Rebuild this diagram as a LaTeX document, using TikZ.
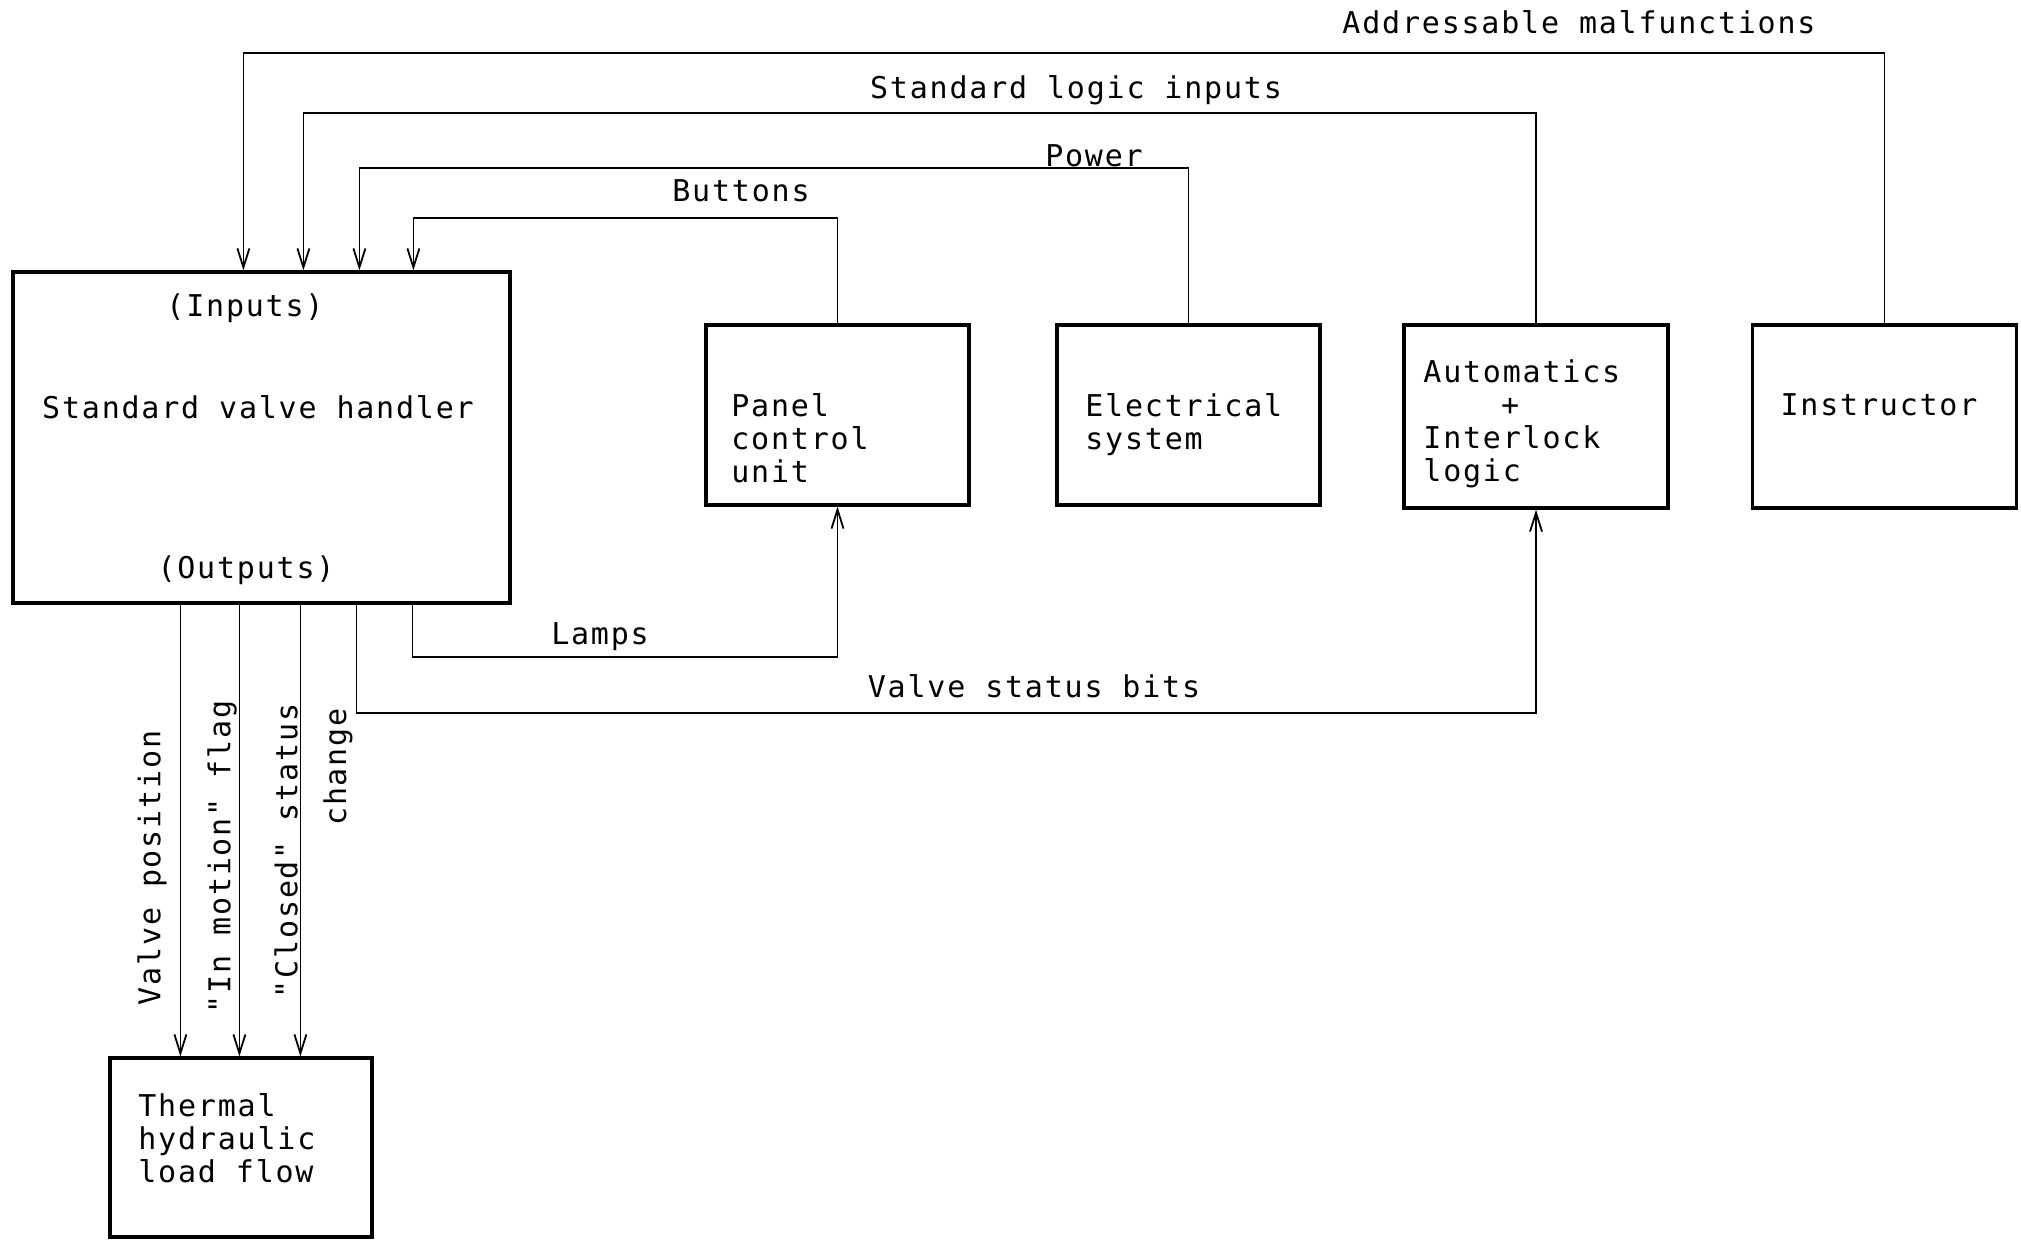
\documentclass[tikz,border=0pt]{standalone}
\usepackage{fontspec}
\setmonofont{DejaVu Sans Mono}[LetterSpace=6]
\usetikzlibrary{arrows.meta,calc}
\begin{document}
\begin{tikzpicture}[x=0.5pt,y=-0.5pt,
  box/.style={draw, line width=1.6pt, inner sep=0pt},
  txt/.style={font=\ttfamily\fontsize{15}{16.5}\selectfont, inner sep=0pt},
  conn/.style={line width=0.9pt},
  arr/.style={conn, -{Straight Barb[length=9.5pt,width=6pt]}}]
\useasboundingbox (0,0) rectangle (2021,1240);
% boxes
\node[box, minimum width=248.5pt, minimum height=165.5pt] (svh) at (261.5,437.5) {};
\node[box, minimum width=131.5pt, minimum height=90pt] (pcu) at (837.5,415) {};
\node[box, minimum width=131.5pt, minimum height=90pt] (elec) at (1188.5,415) {};
\node[box, minimum width=132pt, minimum height=91.5pt] (auto) at (1536,416.5) {};
\node[box, minimum width=132pt, minimum height=91.5pt] (instr) at (1884.5,416.5) {};
\node[box, minimum width=131pt, minimum height=89.5pt] (thl) at (241,1147.5) {};
% box texts
\node[txt] (tin) at (245,308) {(Inputs)};
\node[txt] (tsvh) at (258,407) {Standard valve handler};
\node[txt] (tout) at (246,570) {(Outputs)};
\node[txt, anchor=west, align=left] (tpcu) at (731,438) {Panel\\control\\unit};
\node[txt, anchor=west, align=left] (telec) at (1085,425) {Electrical\\system};
\node[txt, anchor=west, align=left] (tauto) at (1423,424) {Automatics\\\phantom{Auto}+\\Interlock\\logic};
\node[txt] (tinstr) at (1879,405) {Instructor};
\node[txt, anchor=west, align=left] (tthl) at (138,1138) {Thermal\\hydraulic\\load flow};
% port coordinates
\coordinate (in1) at ($(svh.north west)+(232,0)$);
\coordinate (in2) at ($(svh.north west)+(292,0)$);
\coordinate (in3) at ($(svh.north west)+(348,0)$);
\coordinate (in4) at ($(svh.north west)+(402,0)$);
\coordinate (o1) at ($(svh.south west)+(169,0)$);
\coordinate (o2) at ($(svh.south west)+(228,0)$);
\coordinate (o3) at ($(svh.south west)+(289,0)$);
\coordinate (o4) at ($(svh.south west)+(345,0)$);
\coordinate (o5) at ($(svh.south west)+(401,0)$);
% input connectors
\draw[arr] (instr.north) -- ++(0,-270) -| (in1);
\draw[arr] (auto.north) -- ++(0,-210) -| (in2);
\draw[arr] (elec.north) -- ++(0,-155) -| (in3);
\draw[arr] (pcu.north) -- ++(0,-105) -| (in4);
% output connectors
\draw[arr] (o1) -- (o1 |- thl.north);
\draw[arr] (o2) -- (o2 |- thl.north);
\draw[arr] (o3) -- (o3 |- thl.north);
\draw[arr] (o5) -- ++(0,52) -| (pcu.south);
\draw[arr] (o4) -- ++(0,108) -| (auto.south);
% connector labels
\node[txt] (lam) at (1579,22) {Addressable malfunctions};
\node[txt] (lsli) at (1076,90) {Standard logic inputs};
\node[txt] (lpow) at (1094,156) {Power};
\node[txt] (lbut) at (741,191) {Buttons};
\node[txt] (llamp) at (600,637) {Lamps};
\node[txt] (lvsb) at (1034,686) {Valve status bits};
\node[txt, rotate=90] (lvp) at (152,868) {Valve position};
\node[txt, rotate=90] (lim) at (222,857) {"In motion" flag};
\node[txt, rotate=90] (lcs) at (286,851) {"Closed" status};
\node[txt, rotate=90] (lch) at (338,767) {change};
\end{tikzpicture}
\end{document}
